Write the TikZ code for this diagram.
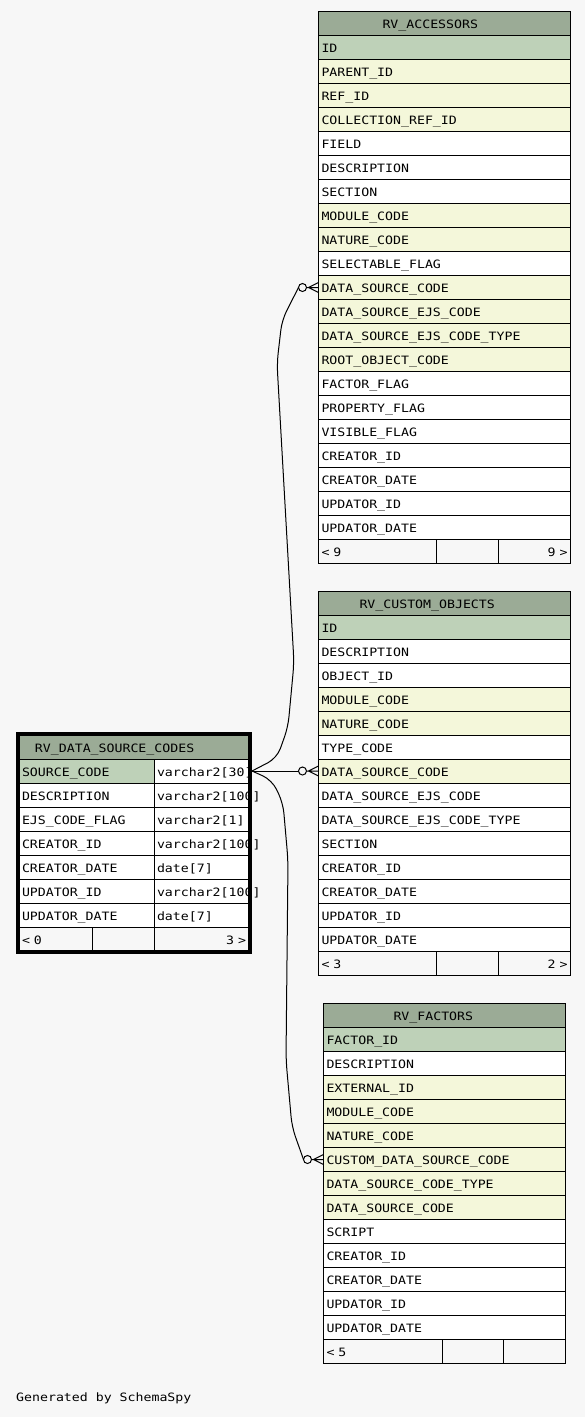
\documentclass[tikz,border=0pt]{standalone}
\usepackage{fontspec}
\usetikzlibrary{calc, positioning, fit}
\newfontfamily\schemafont[FakeStretch=1.15]{DejaVu Sans Mono}
\definecolor{pagebg}{HTML}{F7F7F7}
\definecolor{hdrfill}{HTML}{9BAB96}
\definecolor{pkfill}{HTML}{BED1B8}
\definecolor{fkfill}{HTML}{F4F7DA}
\tikzset{
  cell/.style={draw=black, line width=1pt, outer sep=0pt, inner xsep=3pt, inner ysep=0pt,
    minimum height=24pt, text height=10.5pt, text depth=0pt, anchor=north west, align=left,
    font=\schemafont\fontsize{11.5}{13}\selectfont},
  note/.style={font=\schemafont\fontsize{11.5}{13}\selectfont, anchor=west, inner sep=0pt},
  rel/.style={line width=1pt, rounded corners=10pt},
  % zero-or-many end, sits on the west side of a row
  zeromany/.pic={
    \draw[line width=1pt] (-16,0) circle (4);
    \draw[line width=1pt] (-12,0) -- (-10,0) (-10,0) -- (0,-5) (-10,0) -- (0,0) (-10,0) -- (0,5);
    \coordinate (-tail) at (-20,0);
  },
}

\begin{document}
\begin{tikzpicture}[x=1pt, y=-1pt]
  \fill[pagebg] (0,0) rectangle (585,1417);
  % RV_ACCESSORS
  \node[cell, fill=hdrfill, text width=246pt] (acc-0) at (318.5,11.5) {\hspace*{61pt}RV\_ACCESSORS};
  \foreach \n/\k [count=\i, remember=\i as \j (initially 0)] in {ID/pkfill, PARENT\_ID/fkfill,
      REF\_ID/fkfill, COLLECTION\_REF\_ID/fkfill, FIELD/white, DESCRIPTION/white, SECTION/white,
      MODULE\_CODE/fkfill, NATURE\_CODE/fkfill, SELECTABLE\_FLAG/white, DATA\_SOURCE\_CODE/fkfill,
      DATA\_SOURCE\_EJS\_CODE/fkfill, DATA\_SOURCE\_EJS\_CODE\_TYPE/fkfill, ROOT\_OBJECT\_CODE/fkfill,
      FACTOR\_FLAG/white, PROPERTY\_FLAG/white, VISIBLE\_FLAG/white, CREATOR\_ID/white,
      CREATOR\_DATE/white, UPDATOR\_ID/white, UPDATOR\_DATE/white}
    \node[cell, fill=\k, text width=246pt] (acc-\i) at (acc-\j.south west) {\n};
  \node[cell, fill=pagebg, text width=111.5pt] (acc-fl) at (acc-21.south west) {< 9};
  \node[cell, fill=pagebg, text width=56pt, right=0pt of acc-fl] (acc-fm) {};
  \node[cell, fill=pagebg, text width=66.5pt, align=right, right=0pt of acc-fm] (acc-fr) {9 >};
  % RV_CUSTOM_OBJECTS
  \node[cell, fill=hdrfill, text width=246pt] (cus-0) at (318.5,591) {\hspace*{38pt}RV\_CUSTOM\_OBJECTS};
  \foreach \n/\k [count=\i, remember=\i as \j (initially 0)] in {ID/pkfill, DESCRIPTION/white,
      OBJECT\_ID/white, MODULE\_CODE/fkfill, NATURE\_CODE/fkfill, TYPE\_CODE/white,
      DATA\_SOURCE\_CODE/fkfill, DATA\_SOURCE\_EJS\_CODE/white, DATA\_SOURCE\_EJS\_CODE\_TYPE/white,
      SECTION/white, CREATOR\_ID/white, CREATOR\_DATE/white, UPDATOR\_ID/white, UPDATOR\_DATE/white}
    \node[cell, fill=\k, text width=246pt] (cus-\i) at (cus-\j.south west) {\n};
  \node[cell, fill=pagebg, text width=111.5pt] (cus-fl) at (cus-14.south west) {< 3};
  \node[cell, fill=pagebg, text width=56pt, right=0pt of cus-fl] (cus-fm) {};
  \node[cell, fill=pagebg, text width=66.5pt, align=right, right=0pt of cus-fm] (cus-fr) {2 >};
  % RV_FACTORS
  \node[cell, fill=hdrfill, text width=236pt] (fac-0) at (323.5,1003.5) {\hspace*{67pt}RV\_FACTORS};
  \foreach \n/\k [count=\i, remember=\i as \j (initially 0)] in {FACTOR\_ID/pkfill, DESCRIPTION/white,
      EXTERNAL\_ID/fkfill, MODULE\_CODE/fkfill, NATURE\_CODE/fkfill, CUSTOM\_DATA\_SOURCE\_CODE/fkfill,
      DATA\_SOURCE\_CODE\_TYPE/fkfill, DATA\_SOURCE\_CODE/fkfill, SCRIPT/white, CREATOR\_ID/white,
      CREATOR\_DATE/white, UPDATOR\_ID/white, UPDATOR\_DATE/white}
    \node[cell, fill=\k, text width=236pt] (fac-\i) at (fac-\j.south west) {\n};
  \node[cell, fill=pagebg, text width=112.5pt] (fac-fl) at (fac-13.south west) {< 5};
  \node[cell, fill=pagebg, text width=55pt, right=0pt of fac-fl] (fac-fm) {};
  \node[cell, fill=pagebg, text width=56.5pt, right=0pt of fac-fm] (fac-fr) {};
  % RV_DATA_SOURCE_CODES (the one in focus)
  \node[cell, fill=hdrfill, text width=224pt] (dsc-0) at (19,735) {\hspace*{13pt}RV\_DATA\_SOURCE\_CODES};
  \foreach \n/\t/\k [count=\i, remember=\i as \j (initially 0)] in {SOURCE\_CODE/varchar2[30]/pkfill,
      DESCRIPTION/varchar2[100]/white, EJS\_CODE\_FLAG/varchar2[1]/white, CREATOR\_ID/varchar2[100]/white,
      CREATOR\_DATE/date[7]/white, UPDATOR\_ID/varchar2[100]/white, UPDATOR\_DATE/date[7]/white}
  {
    \node[cell, fill=\k, text width=129pt] (dsc-\i) at (dsc-\j.south west) {\n};
    \node[cell, fill=white, text width=89pt, right=0pt of dsc-\i] (dsc-\i-t) {\t};
  }
  \node[cell, fill=pagebg, text width=67pt] (dsc-fl) at (dsc-7.south west) {< 0};
  \node[cell, fill=pagebg, text width=56pt, right=0pt of dsc-fl] (dsc-fm) {};
  \node[cell, fill=pagebg, text width=89pt, align=right, right=0pt of dsc-fm] (dsc-fr) {3 >};
  \node[draw, line width=4pt, inner sep=1pt, fit=(dsc-0) (dsc-fr)] (dsc-frame) {};
  % relationships
  \coordinate (src) at (dsc-frame.east |- dsc-1);
  \pic (e1) at (acc-11.west) {zeromany};
  \pic (e2) at (cus-7.west) {zeromany};
  \pic (e3) at (fac-6.west) {zeromany};
  \draw[rel] (src) -- (277,758) -- (288,727) -- (294,663) -- (277,363) -- (282,320) -- (e1-tail);
  \draw[rel] (src) -- (e2-tail);
  \draw[rel] (src) -- (272,780) -- (283,803) -- (288,860) -- (286,1060) -- (292,1127) -- (e3-tail);
  \node[note] (credit) at (16,1398) {Generated by SchemaSpy};
\end{tikzpicture}
\end{document}
